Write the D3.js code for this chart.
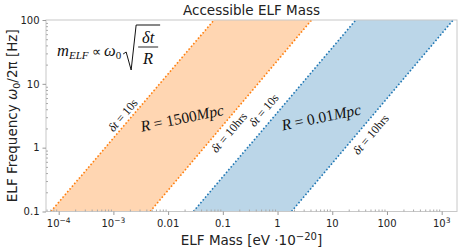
<!DOCTYPE html>
<html>
<head>
<meta charset="utf-8">
<script src="https://cdn.jsdelivr.net/npm/d3@7"></script>
<style>
  body { margin: 0; background: #fff; }
  svg { display: block; font-family: 'DejaVu Sans', sans-serif; }
  .tick text { fill: #222; }
  .math { font-family: 'Liberation Serif', serif; font-style: italic; fill: #111; }
</style>
</head>
<body>
<svg id="chart" width="464" height="250"></svg>
<script>
// frequency ends of each line [Hz]
const freqEnds = [0.1, 100]
// mass [eV 1e-20] where each dotted line meets f = 0.1 and f = 100
const orange10s = [7.2e-5, 0.069]
const orange10hrs = [4.7e-3, 4.2]
const blue10s = [0.029, 27]
const blue10hrs = [1.8, 1620]

const xMajor = [1e-4, 1e-3, 0.01, 0.1, 1, 10, 100, 1e3]
const xMajorLabels = [['10', '\u22124'], ['10', '\u22123'], ['0.01'], ['0.1'], ['1'], ['10'], ['100'], ['10', '3']]
const yMajor = [0.1, 1, 10, 100]
const yMajorLabels = ['0.1', '1', '10', '100']

// label centres in data units [mass, freq]
const dtLabels = [
  { m: 1.63e-3, f: 3.02, text: '10s', side: 'left' },
  { m: 0.115, f: 1.89, text: '10hrs', side: 'right' },
  { m: 0.616, f: 3.62, text: '10s', side: 'left' },
  { m: 45, f: 1.76, text: '10hrs', side: 'right' }
]
const rLabels = [
  { m: 0.018, f: 2.92, text: '1500' },
  { m: 6.24, f: 3.02, text: '0.01' }
]

const margin = { top: 20, right: 7, bottom: 38.5, left: 46 }
const width = 464 - (margin.left + margin.right)
const height = 250 - (margin.top + margin.bottom)

const svg = d3.select('#chart')

const xScale = d3.scaleLog()
  .domain([Math.pow(10, -4.232), Math.pow(10, 3.28)])
  .range([margin.left, margin.left + width])
const yScale = d3.scaleLog()
  .domain([0.1, 100])
  .range([margin.top + height, margin.top])

// minor ticks for log axes
function minorTicks(domain) {
  const out = []
  const lo = Math.floor(Math.log10(domain[0]))
  const hi = Math.ceil(Math.log10(domain[1]))
  for (let e = lo; e <= hi; e++) {
    for (let k = 2; k <= 9; k++) {
      const v = k * Math.pow(10, e)
      if (v >= domain[0] && v <= domain[1]) out.push(v)
    }
  }
  return out
}

// bands
function band(left, right) {
  return [
    [left[0], freqEnds[0]], [left[1], freqEnds[1]],
    [right[1], freqEnds[1]], [right[0], freqEnds[0]]
  ]
}
const area = d3.line().x(d => xScale(d[0])).y(d => yScale(d[1]))

svg.append('path')
  .attr('d', area(band(orange10s, orange10hrs)) + 'Z')
  .attr('fill', '#ff7f0e').attr('fill-opacity', 0.32)
svg.append('path')
  .attr('d', area(band(blue10s, blue10hrs)) + 'Z')
  .attr('fill', '#1f77b4').attr('fill-opacity', 0.3)

const lines = [[orange10s, '#ff7f0e'], [orange10hrs, '#ff7f0e'], [blue10s, '#1f77b4'], [blue10hrs, '#1f77b4']]
lines.forEach(([l, c]) => {
  svg.append('path')
    .attr('d', area([[l[0], freqEnds[0]], [l[1], freqEnds[1]]]))
    .attr('stroke', c)
    .attr('stroke-width', 1.6)
    .attr('stroke-dasharray', '1.6,2')
    .attr('fill', 'none')
})

// frame
svg.append('rect')
  .attr('x', margin.left).attr('y', margin.top)
  .attr('width', width).attr('height', height)
  .attr('fill', 'none').attr('stroke', '#c8c8c8').attr('stroke-width', 1)

// axes
const bottomAxis = svg.append('g')
  .attr('transform', `translate(0, ${margin.top + height})`)
  .call(d3.axisBottom(xScale).tickValues(xMajor).tickSize(3.5).tickFormat(''))
bottomAxis.select('.domain').remove()
bottomAxis.selectAll('line').attr('stroke', '#999')

const bottomMinor = svg.append('g')
  .attr('transform', `translate(0, ${margin.top + height})`)
  .call(d3.axisBottom(xScale).tickValues(minorTicks(xScale.domain())).tickSize(-2).tickFormat(''))
bottomMinor.select('.domain').remove()
bottomMinor.selectAll('line').attr('stroke', '#aaa')

xMajor.forEach((v, i) => {
  const lab = xMajorLabels[i]
  const t = svg.append('text')
    .attr('x', xScale(v)).attr('y', margin.top + height + 15)
    .attr('text-anchor', 'middle')
    .attr('font-size', 10).attr('fill', '#222')
  t.append('tspan').text(lab[0])
  if (lab.length > 1) {
    t.append('tspan').attr('dy', -4).attr('font-size', 7.5).text(lab[1])
  }
})

const leftAxis = svg.append('g')
  .attr('transform', `translate(${margin.left}, 0)`)
  .call(d3.axisLeft(yScale).tickValues(yMajor).tickSize(3.5).tickFormat((d, i) => yMajorLabels[i]))
leftAxis.select('.domain').remove()
leftAxis.selectAll('line').attr('stroke', '#999')
leftAxis.selectAll('text').attr('font-size', 10).attr('font-family', 'DejaVu Sans')

const leftMinor = svg.append('g')
  .attr('transform', `translate(${margin.left}, 0)`)
  .call(d3.axisLeft(yScale).tickValues(minorTicks(yScale.domain())).tickSize(-2).tickFormat(''))
leftMinor.select('.domain').remove()
leftMinor.selectAll('line').attr('stroke', '#aaa')

// title and axis labels
svg.append('text')
  .attr('x', margin.left + width / 2).attr('y', 15)
  .attr('text-anchor', 'middle').attr('font-size', 13.5).attr('fill', '#222')
  .text('Accessible ELF Mass')

const xl = svg.append('text')
  .attr('x', margin.left + width / 2).attr('y', 245)
  .attr('text-anchor', 'middle').attr('font-size', 13.5).attr('fill', '#222')
xl.append('tspan').text('ELF Mass [eV \u00b710')
xl.append('tspan').attr('dy', -5).attr('font-size', 10).text('\u221220')
xl.append('tspan').attr('dy', 5).text(']')

const yl = svg.append('text')
  .attr('transform', `translate(17, ${margin.top + height / 2}) rotate(-90)`)
  .attr('text-anchor', 'middle').attr('font-size', 13.5).attr('fill', '#222')
yl.append('tspan').text('ELF Frequency ')
yl.append('tspan').attr('font-style', 'italic').text('\u03c9')
yl.append('tspan').attr('dy', 3).attr('font-size', 9.5).text('0')
yl.append('tspan').attr('dy', -3).text('/2\u03c0 [Hz]')

// slope of the lines on screen
const ang = Math.atan2(
  yScale(freqEnds[0]) - yScale(freqEnds[1]),
  xScale(orange10s[1]) - xScale(orange10s[0])
) * 180 / Math.PI

dtLabels.forEach(d => {
  const t = svg.append('text')
    .attr('transform', `translate(${xScale(d.m)}, ${yScale(d.f)}) rotate(${-ang})`)
    .attr('text-anchor', 'middle')
    .attr('dy', d.side === 'left' ? '0.1em' : '0.65em')
    .attr('font-size', 12)
    .attr('font-family', 'Liberation Serif, serif')
    .attr('fill', '#111')
  t.append('tspan').attr('font-style', 'italic').text('\u03b4t')
  t.append('tspan').text(' = ' + d.text)
})

rLabels.forEach(d => {
  const t = svg.append('text')
    .attr('transform', `translate(${xScale(d.m)}, ${yScale(d.f)}) rotate(-11.5)`)
    .attr('text-anchor', 'middle').attr('dy', '0.35em')
    .attr('font-size', 15.5)
    .attr('font-family', 'Liberation Serif, serif')
    .attr('fill', '#111')
  t.append('tspan').attr('font-style', 'italic').text('R')
  t.append('tspan').text(' = ' + d.text)
  t.append('tspan').attr('font-style', 'italic').text('Mpc')
})

// formula in top left
const fx = margin.left + 11
const fy = margin.top + 36
const f1 = svg.append('text').attr('class', 'math')
  .attr('x', fx).attr('y', fy).attr('font-size', 16.5)
f1.append('tspan').text('m')
f1.append('tspan').attr('dy', 3).attr('font-size', 11).text('ELF')
f1.append('tspan').attr('dy', -3).attr('font-style', 'normal').attr('font-size', 13).text(' \u221d ')
f1.append('tspan').text('\u03c9')
f1.append('tspan').attr('dy', 3).attr('font-size', 11).attr('font-style', 'normal').text('0')
const fEnd = fx + f1.node().getComputedTextLength() + 2
svg.append('path')
  .attr('d', `M${fEnd},${fy - 2} L${fEnd + 3},${fy - 4} L${fEnd + 8},${fy + 14} L${fEnd + 13},${fy - 31} L${fEnd + 37},${fy - 31}`)
  .attr('fill', 'none').attr('stroke', '#111').attr('stroke-width', 1)
svg.append('line')
  .attr('x1', fEnd + 15).attr('x2', fEnd + 35)
  .attr('y1', fy - 9).attr('y2', fy - 9)
  .attr('stroke', '#111').attr('stroke-width', 0.9)
svg.append('text').attr('class', 'math')
  .attr('x', fEnd + 25).attr('y', fy - 13).attr('text-anchor', 'middle')
  .attr('font-size', 16.5).text('\u03b4t')
svg.append('text').attr('class', 'math')
  .attr('x', fEnd + 25).attr('y', fy + 8).attr('text-anchor', 'middle')
  .attr('font-size', 16.5).text('R')
</script>
</body>
</html>
